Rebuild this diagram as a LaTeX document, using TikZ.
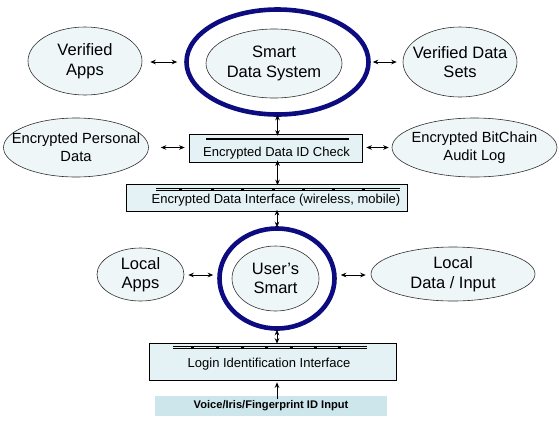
\documentclass[tikz,border=0pt]{standalone}
\usepackage{fontspec}
\setmainfont{Liberation Sans}
\usetikzlibrary{shapes.geometric,arrows.meta,calc}
\definecolor{ringblue}{HTML}{0C0C80}
\definecolor{ellfill}{HTML}{EEF6F8}
\definecolor{boxfill}{HTML}{E4F2F5}
\definecolor{voicefill}{HTML}{CDE6EC}
\definecolor{edge}{HTML}{303030}
\tikzset{
  ell/.style={ellipse, draw=edge, line width=0.6pt, fill=ellfill, inner sep=0pt},
  elltext/.style={align=center, inner sep=0pt, font=\fontsize{16.5}{19.5}\selectfont},
  elltextsm/.style={align=center, inner sep=0pt, font=\fontsize{14.7}{18}\selectfont},
  ring/.style={ellipse, draw=ringblue, line width=4.6pt, inner sep=0pt},
  bx/.style={rectangle, draw=black, line width=0.7pt, fill=boxfill, inner sep=0pt},
  bxtext/.style={font=\fontsize{13}{15}\selectfont, inner sep=0pt},
  arr/.style={{Stealth[length=5.5pt,width=4.6pt]}-{Stealth[length=5.5pt,width=4.6pt]}, line width=0.8pt, black},
  uarr/.style={-{Stealth[length=5.5pt,width=4.6pt]}, line width=0.8pt, black},
  bus/.style={double=boxfill, double distance=1.3pt, line width=0.5pt, draw=black},
  busdot/.style={fill=black, inner sep=0pt, minimum width=3pt, minimum height=2.4pt, rectangle}
}
\begin{document}
\begin{tikzpicture}[x=1pt,y=-1pt]
\useasboundingbox (0,0) rectangle (559,424);
% top level
\node[ring, minimum width=182pt, minimum height=105pt] (sdsO) at (277.5,62) {};
\node[ell, minimum width=136pt, minimum height=69pt] (sds) at (274,63.5) {};
\node[elltext] (sdst) at (sds.center) {Smart\\Data System};
\node[ell, minimum width=114pt, minimum height=68pt] (va) at (85,61) {};
\node[elltext] (vat) at (va.center) {Verified\\Apps};
\node[ell, minimum width=114pt, minimum height=70pt] (vds) at (460,62) {};
\node[elltext] (vdst) at (vds.center) {Verified Data\\Sets};
\node[ell, minimum width=145pt, minimum height=59pt] (epd) at (76,147.5) {};
\node[elltextsm] (epdt) at (epd.center) {Encrypted Personal\\Data};
\node[ell, minimum width=165pt, minimum height=59pt] (ebc) at (474.5,147.5) {};
\node[elltextsm] (ebct) at (ebc.center) {Encrypted BitChain\\Audit Log};
% ID check box
\node[bx, minimum width=173pt, minimum height=28pt] (idc) at (275.5,148) {};
\draw[line width=1.7pt] (206,139) coordinate (idcL) -- (349,139) coordinate (idcR);
\node[bxtext] (idct) at (276.5,153.5) {Encrypted Data ID Check};
% interface box
\node[bx, minimum width=281pt, minimum height=27pt] (edi) at (266.5,197.5) {};
\draw[bus] (156,189.5) coordinate (ediL) -- (400,189.5) coordinate (ediR);
\foreach \x [count=\i] in {180,212,242,273,303,333,363} \node[busdot] (ed\i) at (\x,189.5) {};
\node[bxtext] (edit) at (276,200.5) {Encrypted Data Interface (wireless, mobile)};
% user's smart
\node[ring, minimum width=115pt, minimum height=100pt] (usO) at (277,278.5) {};
\node[ell, minimum width=87pt, minimum height=65pt] (us) at (275.5,278.5) {};
\node[elltext] (ust) at (us.center) {User’s\\Smart};
\node[ell, minimum width=87pt, minimum height=53pt] (la) at (140.5,274.5) {};
\node[elltext] (lat) at (la.center) {Local\\Apps};
\node[ell, minimum width=164pt, minimum height=54pt] (ldi) at (453,274) {};
\node[elltext] (ldit) at (ldi.center) {Local\\Data / Input};
% login box
\node[bx, minimum width=247pt, minimum height=37pt] (lii) at (272.5,361.5) {};
\draw[bus] (173,347.5) coordinate (liiL) -- (367,347.5) coordinate (liiR);
\foreach \x [count=\i] in {192,217,242,266,291,315,339} \node[busdot] (ld\i) at (\x,347.5) {};
\node[bxtext] (liit) at (269,364.5) {Login Identification Interface};
% voice
\node[rectangle, fill=voicefill, minimum width=232pt, minimum height=20pt, inner sep=0pt,
  font=\fontsize{11.1}{13}\selectfont\bfseries] (voice) at (271,406) {Voice/Iris/Fingerprint ID Input};
% connectors
\draw[arr] ([xshift=8pt]va.east |- 0,62) -- ([xshift=-7pt]sdsO.west);
\draw[arr] ([xshift=2pt]sdsO.east) -- ([xshift=-6pt]vds.west |- 0,62);
\draw[arr] ([yshift=2pt]sdsO.south) -- ([yshift=-2pt]sdsO.south |- idc.north);
\draw[arr] ([xshift=12pt]epd.east) -- ([xshift=-4pt]idc.west |- epd.east);
\draw[arr] ([xshift=4pt]idc.east |- ebc.west) -- ([xshift=-3pt]ebc.west);
\draw[arr] ([yshift=2pt]sdsO.south |- idc.south) -- ([yshift=-1.5pt]sdsO.south |- edi.north);
\draw[arr] ([yshift=1.5pt]usO.north |- edi.south) -- ([yshift=-1pt]usO.north);
\draw[arr] ([xshift=4pt]la.east |- 0,275) -- ([xshift=-4pt]usO.west |- 0,275);
\draw[arr] ([xshift=4pt]usO.east |- 0,275) -- ([xshift=-5pt]ldi.west |- 0,275);
\draw[arr] ([yshift=1pt]usO.south) -- ([yshift=-1pt]usO.south |- lii.north);
\draw[uarr] ([yshift=-3pt]usO.south |- voice.north) -- ([yshift=-2pt]usO.south |- lii.south);
\end{tikzpicture}
\end{document}
